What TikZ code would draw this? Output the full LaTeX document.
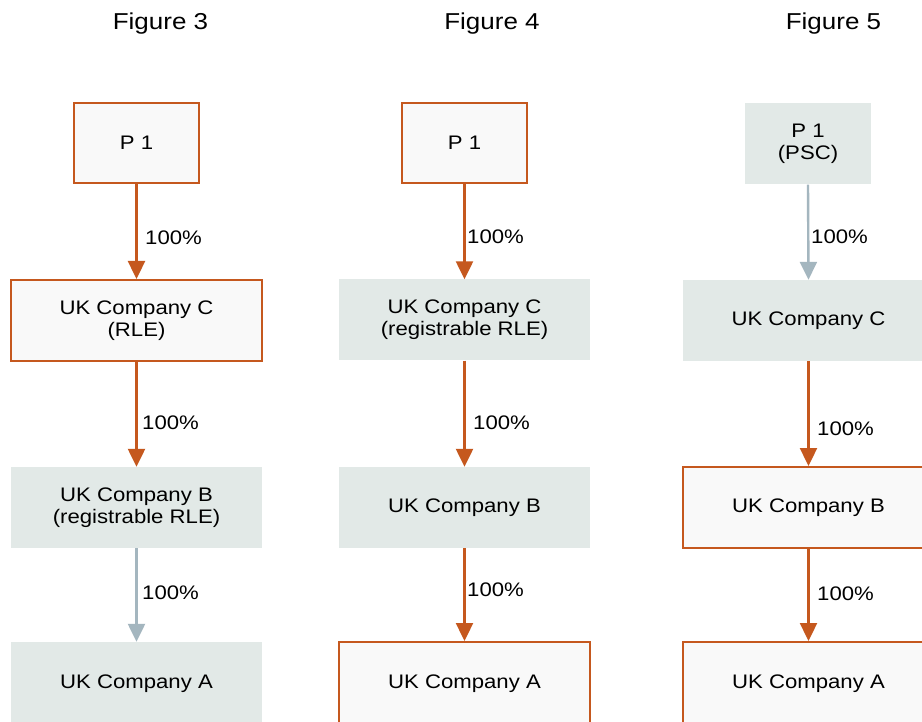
\documentclass[tikz,border=0pt]{standalone}
\usepackage{fontspec}
\setmainfont{Liberation Sans}[FakeStretch=1.13]
\usetikzlibrary{arrows.meta}
\definecolor{orng}{RGB}{197,88,30}
\definecolor{gfill}{RGB}{226,233,231}
\definecolor{wfill}{RGB}{249,249,249}
\definecolor{garrow}{RGB}{164,182,191}
\tikzset{
  x=1pt, y=-1pt,
  box/.style={minimum width=251pt, minimum height=81pt, inner sep=0pt, align=center,
    font=\fontsize{19.6}{21.8}\selectfont},
  obox/.style={box, draw=orng, line width=2pt, fill=wfill},
  gbox/.style={box, fill=gfill},
  pbox/.style={minimum width=125pt, minimum height=80pt},
  oarr/.style={draw=orng, line width=2.4pt, -{Triangle[width=17pt,length=18pt]}},
  garr/.style={draw=garrow, line width=2.4pt, -{Triangle[width=17pt,length=18pt]}},
  lbl/.style={anchor=west, inner sep=0pt, font=\fontsize{19.6}{21.8}\selectfont},
  ttl/.style={anchor=base, inner sep=0pt, font=\fontsize{23}{26}\selectfont},
  atxt/.style={inner sep=0pt, font=\fontsize{19.6}{21.8}\selectfont}
}
\begin{document}
\begin{tikzpicture}
\useasboundingbox[fill=white] (0,0) rectangle (922,722);
% titles
\node[ttl] (t3) at (160.5,30) {Figure 3};
\node[ttl] (t4) at (492,30) {Figure 4};
\node[ttl] (t5) at (833.5,30) {Figure 5};
% Figure 3
\node[obox,pbox] (p3) at (136.5,143) {P 1};
\node[obox] (c3) at (136.5,320.5) {UK Company C\\(RLE)};
\node[gbox] (b3) at (136.5,507.5) {UK Company B\\(registrable RLE)};
\node[gbox,minimum height=84pt] (a3) at (136.5,684) {};
\node[atxt] (a3t) at (136.5,684) {UK Company A};
\draw[oarr] (p3.south) -- (c3.north);
\draw[oarr] (c3.south) -- (b3.north);
\draw[garr] (b3.south) -- (a3.north);
\node[lbl] (l31) at (145,238) {100\%};
\node[lbl] (l32) at (142,423) {100\%};
\node[lbl] (l33) at (142,593) {100\%};
% Figure 4
\node[obox,pbox] (p4) at (464.5,143) {P 1};
\node[gbox] (c4) at (464.5,320) {UK Company C\\(registrable RLE)};
\node[gbox] (b4) at (464.5,507.5) {UK Company B};
\node[obox,minimum height=86pt] (a4) at (464.5,685) {};
\node[atxt] (a4t) at (464.5,684) {UK Company A};
\draw[oarr] (p4.south) -- (c4.north);
\draw[oarr] (c4.south) -- (b4.north);
\draw[oarr] (b4.south) -- (a4.north);
\node[lbl] (l41) at (467,237) {100\%};
\node[lbl] (l42) at (473,423) {100\%};
\node[lbl] (l43) at (467,590) {100\%};
% Figure 5
\node[gbox,pbox,minimum width=126pt,minimum height=81pt] (p5) at (808,144) {P 1\\(PSC)};
\node[gbox] (c5) at (808.5,320.5) {UK Company C};
\node[obox] (b5) at (808.5,507.5) {UK Company B};
\node[obox,minimum height=86pt] (a5) at (808.5,685) {};
\node[atxt] (a5t) at (808.5,684) {UK Company A};
\draw[garr] (p5.south) -- (c5.north);
\draw[oarr] (c5.south) -- (b5.north);
\draw[oarr] (b5.south) -- (a5.north);
\node[lbl] (l51) at (811,237) {100\%};
\node[lbl] (l52) at (817,429) {100\%};
\node[lbl] (l53) at (817,594) {100\%};
\end{tikzpicture}
\end{document}
